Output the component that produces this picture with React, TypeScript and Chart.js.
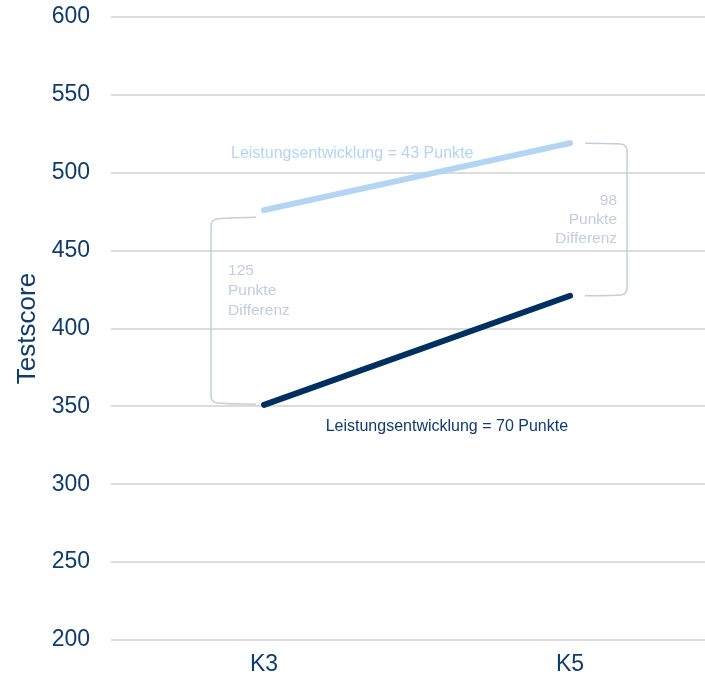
import React, { useEffect, useRef } from "react";
import { Chart, registerables } from "chart.js";

Chart.register(...registerables);

// Grades on the x axis and test scores of the two groups
const grades = ["K3", "K5"];
const scoresHigh = [476, 519];
const scoresLow = [351, 421];
const yTickValues = [200, 250, 300, 350, 400, 450, 500, 550, 600];

const FONT = "'Liberation Sans', Arial, Helvetica, sans-serif";
const NAVY = "#0f3c6e";
const LINE_DARK = "#00305f";
const LINE_LIGHT = "#b4d4f4";
const BRACKET = "#c3cddb";

// Draws the difference brackets and the growth labels on top of the lines
const annotationPlugin = {
  id: "scoreAnnotations",
  afterDatasetsDraw(chart: any) {
    const { ctx } = chart;
    const xs = chart.scales.x;
    const ys = chart.scales.y;
    const x0 = xs.getPixelForValue(0);
    const x1 = xs.getPixelForValue(1);

    ctx.save();
    ctx.strokeStyle = BRACKET;
    ctx.lineWidth = 1.5;
    ctx.lineJoin = "round";

    // left bracket (K3)
    const lTop = ys.getPixelForValue(scoresHigh[0]) + 8;
    const lBot = ys.getPixelForValue(scoresLow[0]) - 1;
    const lV = x0 - 53;
    const lArm = x0 - 8;
    ctx.beginPath();
    ctx.moveTo(lArm, lTop - 1);
    ctx.quadraticCurveTo(lV + 12, lTop - 0.5, lV + 5, lTop + 1);
    ctx.quadraticCurveTo(lV, lTop + 2, lV, lTop + 8);
    ctx.lineTo(lV, lBot - 8);
    ctx.quadraticCurveTo(lV, lBot - 2, lV + 5, lBot - 1);
    ctx.quadraticCurveTo(lV + 12, lBot, lArm, lBot + 0.5);
    ctx.stroke();

    // right bracket (K5)
    const rTop = ys.getPixelForValue(scoresHigh[1]);
    const rBot = ys.getPixelForValue(scoresLow[1]);
    const rV = x1 + 57;
    const rArm = x1 + 15;
    ctx.beginPath();
    ctx.moveTo(rArm, rTop);
    ctx.quadraticCurveTo(rV - 12, rTop, rV - 5, rTop + 1);
    ctx.quadraticCurveTo(rV, rTop + 2, rV, rTop + 8);
    ctx.lineTo(rV, rBot - 8);
    ctx.quadraticCurveTo(rV, rBot - 2, rV - 5, rBot - 1);
    ctx.quadraticCurveTo(rV - 12, rBot, rArm, rBot);
    ctx.stroke();

    // difference texts
    ctx.font = `15.5px ${FONT}`;
    ctx.fillStyle = BRACKET;
    ctx.textBaseline = "middle";
    const diffK3 = scoresHigh[0] - scoresLow[0];
    const diffK5 = scoresHigh[1] - scoresLow[1];

    ctx.textAlign = "left";
    const lMid = (lTop + lBot) / 2 - 20;
    [String(diffK3), "Punkte", "Differenz"].forEach((t, i) => {
      ctx.fillText(t, lV + 17, lMid + (i - 1) * 20);
    });

    ctx.textAlign = "right";
    const rMid = (rTop + rBot) / 2;
    [String(diffK5), "Punkte", "Differenz"].forEach((t, i) => {
      ctx.fillText(t, rV - 10, rMid + (i - 1) * 19);
    });

    // growth labels
    const growthHigh = scoresHigh[1] - scoresHigh[0];
    const growthLow = scoresLow[1] - scoresLow[0];
    ctx.font = `16px ${FONT}`;
    ctx.fillStyle = LINE_LIGHT;
    ctx.textAlign = "left";
    ctx.fillText(
      `Leistungsentwicklung = ${growthHigh} Punkte`,
      x0 - 33,
      ys.getPixelForValue(scoresHigh[0]) - 57
    );
    ctx.fillStyle = NAVY;
    ctx.textAlign = "right";
    ctx.fillText(
      `Leistungsentwicklung = ${growthLow} Punkte`,
      x1 - 2,
      ys.getPixelForValue(scoresLow[0]) + 22
    );
    ctx.restore();
  },
};

export default function App() {
  const canvasRef = useRef<HTMLCanvasElement | null>(null);

  useEffect(() => {
    if (!canvasRef.current) return;
    const toPoints = (vals: number[]) => vals.map((v, i) => ({ x: i, y: v }));
    const chart = new Chart(canvasRef.current, {
      type: "line",
      data: {
        datasets: [
          {
            label: "Gruppe A",
            data: toPoints(scoresHigh),
            borderColor: LINE_LIGHT,
            borderWidth: 6,
            borderCapStyle: "round",
            pointRadius: 0,
            tension: 0,
          },
          {
            label: "Gruppe B",
            data: toPoints(scoresLow),
            borderColor: LINE_DARK,
            borderWidth: 6,
            borderCapStyle: "round",
            pointRadius: 0,
            tension: 0,
          },
        ],
      },
      options: {
        animation: false,
        responsive: false,
        devicePixelRatio: 1,
        layout: { padding: { top: 17, right: 0, bottom: 0, left: 0 } },
        plugins: {
          legend: { display: false },
          tooltip: { enabled: false },
        },
        scales: {
          x: {
            type: "linear",
            min: -0.5,
            max: 1.441,
            afterBuildTicks: (scale: any) => {
              scale.ticks = grades.map((_, i) => ({ value: i }));
            },
            afterFit: (scale: any) => {
              scale.height = 38;
              scale.paddingLeft = 0;
              scale.paddingRight = 0;
            },
            grid: { display: false, drawTicks: false },
            border: { display: false },
            ticks: {
              padding: 11,
              color: NAVY,
              font: { family: FONT, size: 23 },
              callback: (v: any) => grades[v as number] ?? "",
            },
          },
          y: {
            min: 200,
            max: 600,
            afterBuildTicks: (scale: any) => {
              scale.ticks = yTickValues.map((v) => ({ value: v }));
            },
            afterFit: (scale: any) => {
              scale.width = 111;
              scale.paddingTop = 0;
              scale.paddingBottom = 0;
            },
            grid: { color: "#dcdcdc", lineWidth: 2, drawTicks: false },
            border: { display: false },
            ticks: {
              padding: 21,
              color: NAVY,
              font: { family: FONT, size: 23 },
            },
            title: {
              display: true,
              text: "Testscore",
              color: NAVY,
              font: { family: FONT, size: 26 },
              padding: { top: 12, bottom: 0 },
            },
          },
        },
      },
      plugins: [annotationPlugin],
    } as any);
    return () => chart.destroy();
  }, []);

  return (
    <canvas
      ref={canvasRef}
      width={705}
      height={678}
      style={{ position: "absolute", left: 0, top: 0, display: "block" }}
    />
  );
}
